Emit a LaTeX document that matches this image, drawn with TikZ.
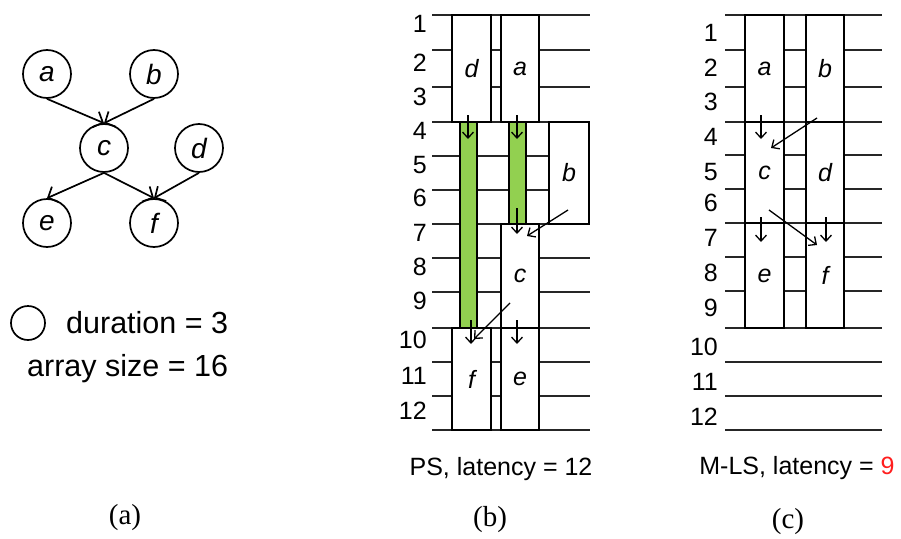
\documentclass[tikz,border=0pt]{standalone}
\usepackage{fontspec}
\setmainfont{Liberation Sans}
\newfontfamily\tnrfont{Liberation Serif}
\usetikzlibrary{arrows.meta}
\definecolor{grn}{RGB}{146,208,80}
\definecolor{redn}{RGB}{255,30,30}
\newcommand\tbox[6]{\node[sbox, minimum width={(#4)-(#2)}, minimum height={(#5)-(#3)}] (#1) at ({((#2)+(#4))/2},{((#3)+(#5))/2}) {#6};}
\begin{document}
\begin{tikzpicture}[x=1pt,y=-1pt,
  gnode/.style={circle, draw, line width=1.7pt, minimum size=48pt, inner sep=0pt, font=\fontsize{28}{30}\selectfont\itshape},
  garr/.style={line width=1.7pt, -{Straight Barb[length=8pt,width=17pt]}},
  grid/.style={line width=1.4pt, black!85},
  sbox/.style={draw, fill=white, line width=1.4pt, inner sep=0pt, outer sep=0pt, font=\fontsize{25}{28}\selectfont\itshape},
  gbar/.style={draw, fill=grn, line width=1.4pt},
  sarr/.style={line width=1.3pt, -{Straight Barb[length=6pt,width=11pt]}},
  num/.style={anchor=east, inner sep=0pt, font=\fontsize{25}{28}\selectfont},
  captxt/.style={inner sep=0pt, font=\fontsize{25}{28}\selectfont},
  lab/.style={inner sep=0pt, font=\tnrfont\fontsize{29}{32}\selectfont},
  leg/.style={inner sep=0pt, anchor=west, font=\fontsize{30.5}{32}\selectfont}]
\useasboundingbox (0,0) rectangle (901,538);

% ---------- (a) task graph ----------
\node[gnode] (a) at (47,74) {a};
\node[gnode] (b) at (154,74) {b};
\node[gnode] (c) at (104,148) {c};
\node[gnode] (d) at (199,148) {d};
\node[gnode] (e) at (47,223) {e};
\node[gnode] (f) at (154,223) {f};
\draw[garr] (a.south) -- (c.north);
\draw[garr] (b.south) -- (c.north);
\draw[garr] (c.south) -- (e.north);
\draw[garr] (c.south) -- (f.north);
\draw[garr] (d.south) -- (f.north);

\node[circle, draw, line width=1.7pt, minimum size=34pt, inner sep=0pt] (legc) at (28,323) {};
\node[leg] (dur) at (66,323) {duration = 3};
\node[leg] (arr) at (27,369) {array size = 16};
\node[lab] (capa) at (125,518) {(a)};

% ---------- (b) PS ----------
\foreach \y/\n/\t in {15/1/24, 50/2/63, 87/3/97, 122/4/131, 156/5/165, 190/6/198, 224/7/233, 258/8/267, 292/9/301, 328/10/340, 362/11/376, 396/12/411}{
  \draw[grid] (432,\y) -- (590,\y);
  \node[num] (bn\n) at (427,\t) {\n};
}
\draw[grid] (432,430) -- (590,430);

\tbox{bd}{452}{15}{491}{122}{d}
\tbox{ba}{501}{15}{539}{122}{a}
\tbox{bb}{549}{122}{589}{224}{b}
\tbox{bc}{501}{224}{539}{328}{c}
\tbox{bf}{452}{328}{491}{430}{f}
\tbox{be}{501}{328}{539}{430}{e}
\node[gbar, minimum width=17pt, minimum height=206pt, inner sep=0pt, outer sep=0pt] (g1) at (468.5,225) {};
\node[gbar, minimum width=17pt, minimum height=102pt, inner sep=0pt, outer sep=0pt] (g2) at (517.5,173) {};

\coordinate (p1s) at (468,115); \coordinate (p1e) at (468,139);
\coordinate (p2s) at (517,115); \coordinate (p2e) at (517,139);
\coordinate (p3s) at (517,208); \coordinate (p3e) at (517,234);
\coordinate (p4s) at (568,210); \coordinate (p4e) at (527,236);
\coordinate (p5s) at (510,303); \coordinate (p5e) at (474,339);
\coordinate (p6s) at (471,320); \coordinate (p6e) at (471,344);
\coordinate (p7s) at (517,320); \coordinate (p7e) at (517,344);
\foreach \i in {1,...,7}{\draw[sarr] (p\i s) -- (p\i e);}

\node[captxt] (capps) at (501,469) {PS, latency = 12};
\node[lab] (capb) at (490,520) {(b)};

% ---------- (c) M-LS ----------
\foreach \y/\n/\t in {15/1/33, 50/2/68, 87/3/102, 122/4/137, 155/5/172, 189/6/203, 223/7/238, 257/8/273, 291/9/308, 328/10/347, 362/11/382, 396/12/417}{
  \draw[grid] (725,\y) -- (882,\y);
  \node[num] (cn\n) at (718,\t) {\n};
}
\draw[grid] (725,430) -- (882,430);

\tbox{ca}{745}{15}{784}{122}{a}
\tbox{cb}{806}{15}{844}{122}{b}
\tbox{cc}{745}{122}{784}{223}{c}
\tbox{cd}{806}{122}{844}{223}{d}
\tbox{ce}{745}{223}{784}{328}{e}
\tbox{cf}{806}{223}{844}{328}{f}

\coordinate (q1s) at (761,115); \coordinate (q1e) at (761,139);
\coordinate (q2s) at (817,118); \coordinate (q2e) at (771,148);
\coordinate (q3s) at (761,217); \coordinate (q3e) at (761,242);
\coordinate (q4s) at (769,210); \coordinate (q4e) at (817,245);
\coordinate (q5s) at (826,217); \coordinate (q5e) at (826,242);
\foreach \i in {1,...,5}{\draw[sarr] (q\i s) -- (q\i e);}

\node[captxt] (capml) at (797,468) {M-LS, latency = \textcolor{redn}{9}};
\node[lab] (capc) at (788,522) {(c)};
\end{tikzpicture}
\end{document}
